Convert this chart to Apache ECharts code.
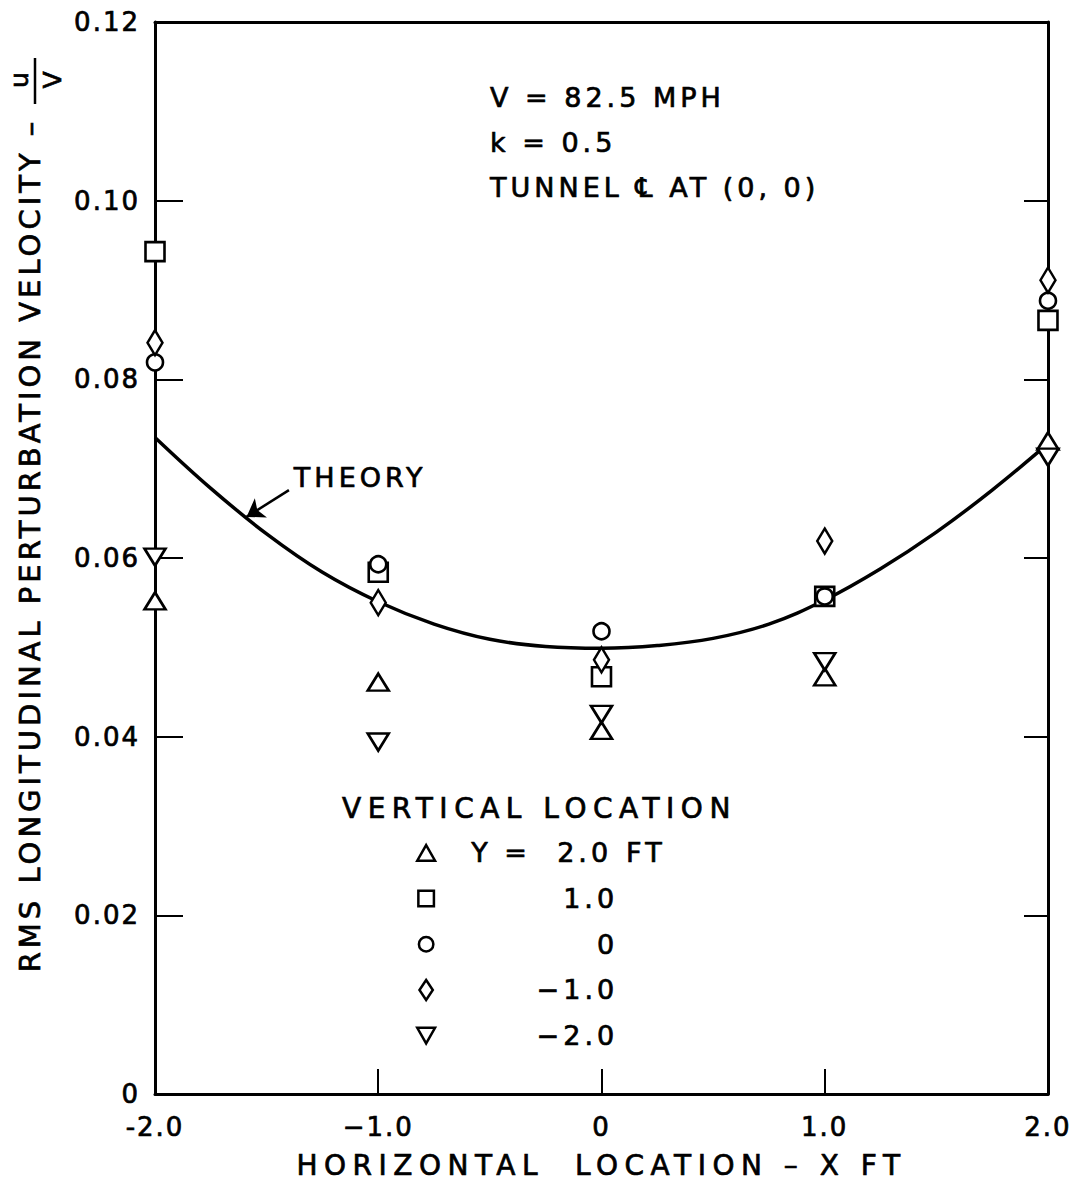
<!DOCTYPE html>
<html>
<head>
<meta charset="utf-8">
<title>RMS longitudinal perturbation velocity</title>
<script src="https://cdn.jsdelivr.net/npm/echarts@6/dist/echarts.min.js"></script>
<style>
  html, body { margin: 0; padding: 0; background: #fff; }
  #chart { width: 1072px; height: 1186px; }
  /* open, hand-lettered spacing for each text size */
  #chart text[style*="26px"] { letter-spacing: 2px; }
  #chart text[style*="27px"] { letter-spacing: 4px; }
  #chart text[style*="28px"] { letter-spacing: 6.5px; }
  #chart text[style*="29px"] { letter-spacing: 4px; }
</style>
</head>
<body>
<div id="chart"></div>
<script>
// Axis tick labels
const xTickLabels = ['-2.0', '\u22121.0', '0', '1.0', '2.0'];
const yTickLabels = ['0', '0.02', '0.04', '0.06', '0.08', '0.10', '0.12'];

// Measured u/V at each horizontal station, one list per vertical location
const keyNames = ['Y = 2.0 FT', '1.0', '0', '\u22121.0', '\u22122.0'];
const xStations = [-2, -1, 0, 1, 2];
const uY2p0 = [0.0552, 0.0461, 0.0407, 0.0467, 0.0731];
const uY1p0 = [0.0943, 0.0584, 0.0467, 0.0557, 0.0866];
const uY0p0 = [0.0819, 0.0593, 0.0518, 0.0557, 0.0888];
const uYm1p0 = [0.0841, 0.0550, 0.0486, 0.0619, 0.0911];
const uYm2p0 = [0.0601, 0.0394, 0.0425, 0.0484, 0.0713];

// Theoretical curve
const theoryX = [-2, -1.75, -1.5, -1.25, -1, -0.75, -0.5, -0.25, 0, 0.25, 0.5, 0.75, 1, 1.25, 1.5, 1.75, 2];
const theoryU = [0.0735, 0.0678, 0.0627, 0.0584, 0.0551, 0.0526, 0.0509, 0.0501, 0.0499,
                 0.0502, 0.0510, 0.0526, 0.0553, 0.0588, 0.0629, 0.0676, 0.0728];

const FONT = 'DejaVu Sans';
const INK = '#000';
// a thin outline gives the lettering the weight of pen strokes
const PEN = { textBorderColor: INK, textBorderWidth: 0.7 };

const pairs = (xs, ys) => xs.map((x, i) => [x, ys[i]]);

const markerStyle = { color: '#fff', borderColor: INK, borderWidth: 2.6, opacity: 1 };
const downTriangle = 'path://M0,0 L20,0 L10,17 Z';

const markerSeries = [
  { name: keyNames[0], data: uY2p0, symbol: 'triangle', symbolSize: [21, 17] },
  { name: keyNames[1], data: uY1p0, symbol: 'rect', symbolSize: [19, 19] },
  { name: keyNames[2], data: uY0p0, symbol: 'circle', symbolSize: 16 },
  { name: keyNames[3], data: uYm1p0, symbol: 'diamond', symbolSize: [15, 25] },
  { name: keyNames[4], data: uYm2p0, symbol: downTriangle, symbolSize: [21, 17] }
].map(s => ({
  type: 'scatter',
  name: s.name,
  symbol: s.symbol,
  symbolSize: s.symbolSize,
  itemStyle: markerStyle,
  z: 5,
  data: pairs(xStations, s.data)
}));

// Key icons, each drawn inside a 16 x 18 frame
const FRAME = 'path://M0,0 M16,18 ';
const keyIcons = [
  FRAME + 'M8,2 L16,16 L0,16 Z',
  FRAME + 'M1,2 L15,2 L15,16 L1,16 Z',
  FRAME + 'M14.5,9 A6.5,6.5 0 1 1 1.5,9 A6.5,6.5 0 1 1 14.5,9 Z',
  FRAME + 'M8,0 L14,9 L8,18 L2,9 Z',
  FRAME + 'M0,2 L16,2 L8,16 Z'
];

const richKey = (extra) => Object.assign({ fontFamily: FONT, fontSize: 27, color: INK, lineHeight: 16 }, PEN, extra);

const chart = echarts.init(document.getElementById('chart'), null, { renderer: 'svg' });

chart.setOption({
  animation: false,
  backgroundColor: '#fff',
  textStyle: { fontFamily: FONT, color: INK },
  grid: { left: 155, right: 17, top: 22, bottom: 92 },
  title: [
    {
      text: 'V = 82.5 MPH\nk = 0.5\nTUNNEL \u2104 AT (0, 0)',
      left: 490, top: 75, padding: 0,
      textStyle: Object.assign({ fontFamily: FONT, fontSize: 27, fontWeight: 'normal', color: INK, lineHeight: 45 }, PEN)
    },
    {
      text: 'VERTICAL LOCATION',
      left: 342, top: 794, padding: 0,
      textStyle: Object.assign({ fontFamily: FONT, fontSize: 28, fontWeight: 'normal', color: INK, lineHeight: 28 }, PEN)
    }
  ],
  legend: {
    orient: 'vertical',
    left: 416, top: 839, padding: 0,
    itemWidth: 18, itemHeight: 20, itemGap: 18,
    selectedMode: false,
    itemStyle: { color: '#fff', borderColor: INK, borderWidth: 2.5 },
    data: keyNames.map((n, i) => ({ name: n, icon: keyIcons[i] })),
    formatter: name => name === keyNames[0]
      ? '{a|Y =}{b|2.0}{c|FT}'
      : '{n|' + name + '}',
    textStyle: {
      fontFamily: FONT, fontSize: 27, color: INK,
      rich: {
        a: richKey({ width: 80, padding: [0, 0, 0, 31] }),
        b: richKey({ width: 67, align: 'right' }),
        c: richKey({ padding: [0, 0, 0, 12] }),
        n: richKey({ width: 178, align: 'right' })
      }
    }
  },
  xAxis: [
    {
      type: 'value', min: -2, max: 2, interval: 1,
      name: 'HORIZONTAL  LOCATION \u2013 X FT',
      nameLocation: 'middle', nameGap: 57,
      nameTextStyle: Object.assign({ fontFamily: FONT, fontSize: 28, color: INK }, PEN),
      axisLine: { show: true, onZero: false, lineStyle: { color: INK, width: 3 } },
      axisTick: { show: true, inside: true, length: 25, lineStyle: { color: INK, width: 2 } },
      axisLabel: Object.assign({
        margin: 20, fontFamily: FONT, fontSize: 26, color: INK,
        formatter: v => xTickLabels[Math.round(v + 2)]
      }, PEN),
      splitLine: { show: false }
    },
    {
      type: 'value', min: -2, max: 2, interval: 1, position: 'top',
      axisLine: { show: true, onZero: false, lineStyle: { color: INK, width: 3 } },
      axisTick: { show: false }, axisLabel: { show: false }, splitLine: { show: false }
    }
  ],
  yAxis: [
    {
      type: 'value', min: 0, max: 0.12, interval: 0.02,
      name: 'RMS LONGITUDINAL PERTURBATION VELOCITY \u2013',
      nameLocation: 'middle', nameRotate: 90, nameGap: 111,
      nameTextStyle: Object.assign({ fontFamily: FONT, fontSize: 29, color: INK, padding: [0, 0, 0, 26] }, PEN),
      axisLine: { show: true, onZero: false, lineStyle: { color: INK, width: 3 } },
      axisTick: { show: true, inside: true, length: 28, lineStyle: { color: INK, width: 2 } },
      axisLabel: Object.assign({
        margin: 15, fontFamily: FONT, fontSize: 26, color: INK,
        formatter: v => yTickLabels[Math.round(v / 0.02)]
      }, PEN),
      splitLine: { show: false }
    },
    {
      type: 'value', min: 0, max: 0.12, interval: 0.02, position: 'right',
      axisLine: { show: true, onZero: false, lineStyle: { color: INK, width: 3 } },
      axisTick: { show: true, inside: true, length: 24, lineStyle: { color: INK, width: 2 } },
      axisLabel: { show: false }, splitLine: { show: false }
    }
  ],
  graphic: [
    // u/V fraction at the end of the vertical axis title
    { type: 'text', x: 19, y: 80, rotation: Math.PI / 2,
      style: { text: 'u', font: '25px "DejaVu Sans"', fill: INK, stroke: INK, lineWidth: 0.7,
               textAlign: 'center', textVerticalAlign: 'middle' } },
    { type: 'line', shape: { x1: 35, y1: 58, x2: 35, y2: 104 },
      style: { stroke: INK, lineWidth: 2.5 } },
    { type: 'text', x: 52, y: 80, rotation: Math.PI / 2,
      style: { text: 'V', font: '25px "DejaVu Sans"', fill: INK, stroke: INK, lineWidth: 0.7,
               textAlign: 'center', textVerticalAlign: 'middle' } }
  ],
  series: [
    {
      type: 'line',
      name: 'THEORY',
      data: pairs(theoryX, theoryU),
      smooth: 0.4,
      showSymbol: false,
      symbol: 'none',
      lineStyle: { color: INK, width: 3.5 },
      z: 2,
      markLine: {
        silent: true,
        symbol: ['none', 'arrow'],
        symbolSize: 17,
        lineStyle: { color: INK, width: 2.5, type: 'solid' },
        label: { show: false },
        data: [[{ coord: [-1.40, 0.0676] }, { coord: [-1.59, 0.0646] }]]
      },
      markPoint: {
        silent: true,
        symbol: 'circle', symbolSize: 0,
        label: Object.assign({
          show: true, position: 'right', distance: 0,
          fontFamily: FONT, fontSize: 27, color: INK,
          formatter: 'THEORY'
        }, PEN),
        data: [{ coord: [-1.378, 0.0690] }]
      }
    },
    ...markerSeries
  ]
});
</script>
</body>
</html>
